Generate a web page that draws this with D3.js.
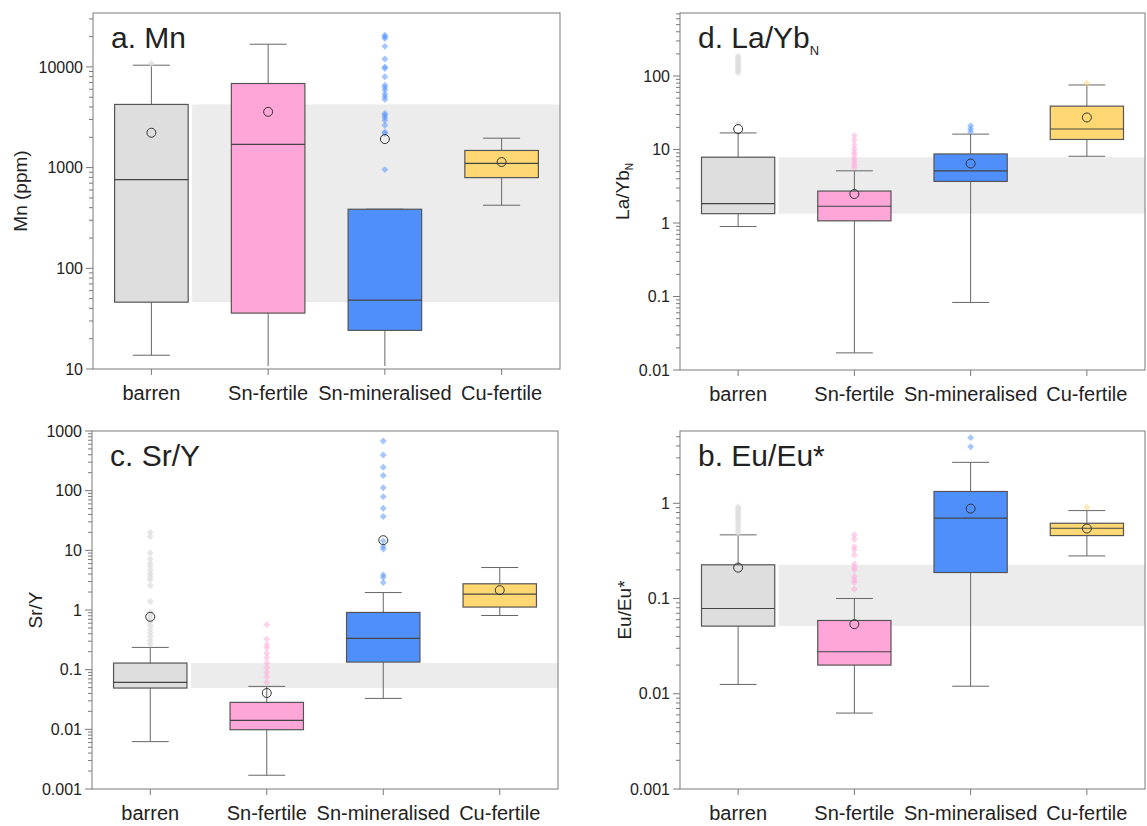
<!DOCTYPE html>
<html>
<head>
<meta charset="utf-8">
<script src="https://cdn.jsdelivr.net/npm/d3@7"></script>
<style>
  body { margin: 0; background: #fff; }
  svg { display: block; font-family: "Liberation Sans", Arial, sans-serif; }
</style>
</head>
<body>
<svg width="1147" height="826"></svg>
<script>
const groups = ["barren", "Sn-fertile", "Sn-mineralised", "Cu-fertile"];

// box stats per group: whisker low, Q1, median, Q3, whisker high, mean
const mnBoxes = [
  { low: 13.7, q1: 46.1, median: 759, q3: 4240, high: 10400, mean: 2220 },
  { low: 9, q1: 35.9, median: 1700, q3: 6840, high: 16800, mean: 3580 },
  { low: 9, q1: 24.2, median: 48.3, q3: 386, high: 386, mean: 1920 },
  { low: 423, q1: 795, median: 1100, q3: 1480, high: 1960, mean: 1136 }
];
const mnOutliers = [
  [10800],
  [],
  [20600, 19900, 19100, 16000, 12000, 10000, 9630, 7970, 6580, 6240, 5870, 5360,
   5040, 4740, 3440, 3310, 3140, 2950, 2630, 2260, 2180, 955],
  []
];
const mnTicks = [10, 100, 1000, 10000];

const laybBoxes = [
  { low: 0.895, q1: 1.34, median: 1.83, q3: 7.86, high: 16.8, mean: 19 },
  { low: 0.0171, q1: 1.07, median: 1.69, q3: 2.72, high: 5.13, mean: 2.48 },
  { low: 0.083, q1: 3.68, median: 5.13, q3: 8.7, high: 16.2, mean: 6.44 },
  { low: 8.1, q1: 13.7, median: 19, q3: 38.9, high: 75.5, mean: 27.3 }
];
const laybOutliers = [
  [186, 175, 165, 155, 146, 138, 130, 123, 117, 111, 22.6],
  [15.4, 13.5, 11.5, 10.2, 9.2, 8.4, 7.5, 6.8, 6.2, 5.7],
  [21, 19, 17.5],
  [79.5]
];
const laybTicks = [0.01, 0.1, 1, 10, 100];

const sryBoxes = [
  { low: 0.00622, q1: 0.0492, median: 0.0612, q3: 0.129, high: 0.236, mean: 0.769 },
  { low: 0.0017, q1: 0.00986, median: 0.0141, q3: 0.0283, high: 0.0525, mean: 0.0406 },
  { low: 0.033, q1: 0.134, median: 0.334, q3: 0.91, high: 1.96, mean: 14.8 },
  { low: 0.809, q1: 1.12, median: 1.85, q3: 2.75, high: 5.15, mean: 2.15 }
];
const sryOutliers = [
  [19.9, 17, 9, 7.2, 6.1, 5.4, 4.7, 4.1, 3.6, 3.2, 2.57, 1.39, 0.92, 0.82, 0.72,
   0.63, 0.55, 0.47, 0.41, 0.36, 0.31, 0.27],
  [0.565, 0.325, 0.261, 0.232, 0.19, 0.16, 0.129, 0.108, 0.09, 0.076, 0.061],
  [681, 397, 247, 179, 112, 79.4, 50.7, 36.8, 14.4, 11.6, 10.5, 3.88, 3.55, 2.89],
  []
];
const sryTicks = [0.001, 0.01, 0.1, 1, 10, 100, 1000];

const euBoxes = [
  { low: 0.01253, q1: 0.0513, median: 0.0786, q3: 0.226, high: 0.466, mean: 0.211 },
  { low: 0.00627, q1: 0.02, median: 0.0276, q3: 0.0588, high: 0.1, mean: 0.0538 },
  { low: 0.012, q1: 0.1875, median: 0.697, q3: 1.33, high: 2.69, mean: 0.879 },
  { low: 0.28, q1: 0.458, median: 0.547, q3: 0.617, high: 0.838, mean: 0.543 }
];
const euOutliers = [
  [0.92, 0.88, 0.84, 0.8, 0.76, 0.72, 0.68, 0.64, 0.6, 0.56, 0.52, 0.49],
  [0.466, 0.42, 0.35, 0.324, 0.287, 0.231, 0.213, 0.2, 0.17, 0.157, 0.147, 0.125],
  [4.89, 3.93],
  [0.908]
];
const euTicks = [0.001, 0.01, 0.1, 1];

const fills = ["#dedede", "#ffa6d9", "#4f8ffa", "#ffd873"];

const svg = d3.select("svg");

// paneles: posición y contenido
const panels = [
  { title: "a. Mn", label: "Mn (ppm)", boxes: mnBoxes, outliers: mnOutliers, ticks: mnTicks,
    domain: [10, 34300], x0: 93, x1: 560, y0: 13, y1: 369, labelOff: 73 },
  { title: "d. La/Yb", sub: "N", label: "La/Yb", labelSub: "N", boxes: laybBoxes, outliers: laybOutliers,
    ticks: laybTicks, domain: [0.01, 720], x0: 680, x1: 1145, y0: 13, y1: 370, labelOff: 58 },
  { title: "c. Sr/Y", label: "Sr/Y", boxes: sryBoxes, outliers: sryOutliers, ticks: sryTicks,
    domain: [0.001, 1000], x0: 92, x1: 558, y0: 431, y1: 789, labelOff: 57 },
  { title: "b. Eu/Eu*", label: "Eu/Eu*", boxes: euBoxes, outliers: euOutliers, ticks: euTicks,
    domain: [0.001, 5.74], x0: 680, x1: 1145, y0: 431, y1: 789, labelOff: 56 }
];

panels.forEach((p, pi) => {
  const x = d3.scaleBand().domain(groups).range([p.x0, p.x1]);
  const y = d3.scaleLog().domain(p.domain).range([p.y1, p.y0]);
  const bw = x.bandwidth();
  const boxW = bw * 0.63, capW = bw * 0.317;
  const cx = g => x(g) + bw / 2;

  const g = svg.append("g");

  svg.append("clipPath").attr("id", "clip" + pi)
    .append("rect")
    .attr("x", p.x0).attr("y", p.y0)
    .attr("width", p.x1 - p.x0).attr("height", p.y1 - p.y0 - 3);

  const plot = g.append("g").attr("clip-path", `url(#clip${pi})`);

  // banda de referencia (IQR de barren)
  const ref = p.boxes[0];
  plot.append("rect")
    .attr("x", cx(groups[0]) + boxW / 2 + 4)
    .attr("y", y(ref.q3))
    .attr("width", p.x1 - (cx(groups[0]) + boxW / 2 + 4))
    .attr("height", y(ref.q1) - y(ref.q3))
    .attr("fill", "#ececec");

  groups.forEach((grp, i) => {
    const b = p.boxes[i];
    const c = cx(grp);
    // bigotes
    plot.append("line").attr("x1", c).attr("x2", c)
      .attr("y1", y(b.high)).attr("y2", y(b.q3))
      .attr("stroke", "#666").attr("stroke-width", 1);
    plot.append("line").attr("x1", c).attr("x2", c)
      .attr("y1", y(b.q1)).attr("y2", y(b.low))
      .attr("stroke", "#666").attr("stroke-width", 1);
    [b.high, b.low].forEach(v => {
      plot.append("line").attr("x1", c - capW / 2).attr("x2", c + capW / 2)
        .attr("y1", y(v)).attr("y2", y(v))
        .attr("stroke", "#666").attr("stroke-width", 1);
    });
    // caja
    plot.append("rect")
      .attr("x", c - boxW / 2).attr("y", y(b.q3))
      .attr("width", boxW).attr("height", y(b.q1) - y(b.q3))
      .attr("fill", fills[i]).attr("stroke", "#555").attr("stroke-width", 1.2);
    plot.append("line").attr("x1", c - boxW / 2).attr("x2", c + boxW / 2)
      .attr("y1", y(b.median)).attr("y2", y(b.median))
      .attr("stroke", "#444").attr("stroke-width", 1.2);
    // valores atípicos
    plot.selectAll(null)
      .data(p.outliers[i])
      .join("path")
      .attr("d", d3.symbol(d3.symbolSquare, 24))
      .attr("transform", v => `translate(${c},${y(v)}) rotate(45)`)
      .attr("fill", fills[i])
      .attr("fill-opacity", i === 0 ? 0.75 : 0.5);
    // media
    plot.append("circle")
      .attr("cx", c).attr("cy", y(b.mean)).attr("r", 4.5)
      .attr("fill", "none").attr("stroke", "#333").attr("stroke-width", 1);
  });

  // marco
  g.append("rect")
    .attr("x", p.x0).attr("y", p.y0)
    .attr("width", p.x1 - p.x0).attr("height", p.y1 - p.y0)
    .attr("fill", "none").attr("stroke", "#7a7a7a").attr("stroke-width", 1);

  // eje y: marcas mayores y menores
  const [lo, hi] = p.domain;
  const minors = [];
  for (let e = Math.floor(Math.log10(lo)); e <= Math.ceil(Math.log10(hi)); e++) {
    for (let k = 2; k <= 9; k++) {
      const v = k * Math.pow(10, e);
      if (v > lo && v < hi) minors.push(v);
    }
  }
  g.selectAll(null).data(minors).join("line")
    .attr("x1", p.x0 - 4).attr("x2", p.x0)
    .attr("y1", d => y(d)).attr("y2", d => y(d))
    .attr("stroke", "#7a7a7a");
  g.selectAll(null).data(p.ticks).join("line")
    .attr("x1", p.x0 - 7).attr("x2", p.x0)
    .attr("y1", d => y(d)).attr("y2", d => y(d))
    .attr("stroke", "#7a7a7a");
  g.selectAll(null).data(p.ticks).join("text")
    .attr("x", p.x0 - 10).attr("y", d => y(d))
    .attr("dy", "0.35em")
    .attr("text-anchor", "end")
    .attr("fill", "#222")
    .style("font-size", "16px")
    .text(d => String(d));

  // eje x
  g.selectAll(null).data(groups).join("line")
    .attr("x1", d => cx(d)).attr("x2", d => cx(d))
    .attr("y1", p.y1).attr("y2", p.y1 + 6)
    .attr("stroke", "#7a7a7a");
  g.selectAll(null).data(groups).join("text")
    .attr("x", d => cx(d)).attr("y", p.y1 + 31)
    .attr("text-anchor", "middle")
    .attr("fill", "#222")
    .style("font-size", "20px")
    .text(d => d);

  // título del panel
  const t = g.append("text")
    .attr("x", p.x0 + 18).attr("y", p.y0 + 35)
    .attr("fill", "#222")
    .style("font-size", "30px")
    .text(p.title);
  if (p.sub) {
    t.append("tspan").attr("dy", 7).style("font-size", "13px").text(p.sub);
  }

  // etiqueta del eje y
  const yl = g.append("text")
    .attr("transform", `translate(${p.x0 - p.labelOff},${(p.y0 + p.y1) / 2}) rotate(-90)`)
    .attr("text-anchor", "middle")
    .attr("dy", "0.35em")
    .attr("fill", "#222")
    .style("font-size", "19px")
    .text(p.label);
  if (p.labelSub) {
    yl.append("tspan").attr("dy", 4).style("font-size", "10px").text(p.labelSub);
  }
});
</script>
</body>
</html>
